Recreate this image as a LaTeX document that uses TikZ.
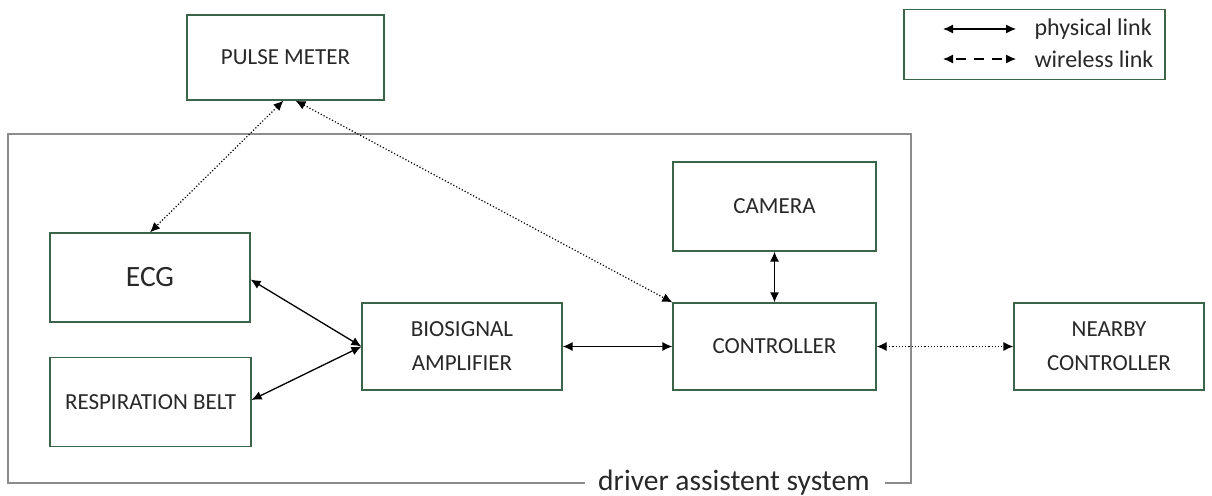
\documentclass[tikz,border=0pt]{standalone}
\usepackage{fontspec}
\setmainfont{Carlito}
\usetikzlibrary{arrows.meta}
\definecolor{boxgreen}{RGB}{60,100,72}
\definecolor{sysgrey}{RGB}{140,140,140}
\definecolor{txt}{RGB}{40,40,40}
\tikzset{
  blk/.style={draw=boxgreen, line width=1.2pt, fill=white, align=center, text=txt, font=\fontsize{23}{26}\selectfont, inner sep=0pt},
  phys/.style={line width=1.3pt, {Latex[length=10pt,width=9pt]}-{Latex[length=10pt,width=9pt]}},
  wire/.style={line width=1.2pt, dotted, {Latex[length=10pt,width=9pt]}-{Latex[length=10pt,width=9pt]}},
}
\begin{document}
\begin{tikzpicture}[x=1pt,y=-1pt]
\useasboundingbox (0,0) rectangle (1212,495);
% system boundary
\draw[sysgrey, line width=1.2pt] (585,483) -- (8,483) -- (8,134) -- (911,134) -- (911,483) -- (885,483);
\node[font=\fontsize{29.5}{32}\selectfont, text=txt, anchor=base] (sys) at (734,490) {driver assistent system};
% boxes
\node[blk, minimum width=197pt, minimum height=85pt] (pulse) at (285.5,57.5) {PULSE METER};
\node[blk, minimum width=203pt, minimum height=89pt] (cam) at (774.5,206.5) {CAMERA};
\node[blk, minimum width=200pt, minimum height=89pt, font=\fontsize{29.5}{32}\selectfont] (ecg) at (150,277.5) {ECG};
\node[blk, minimum width=201pt, minimum height=89pt] (resp) at (150.5,402) {RESPIRATION BELT};
\node[blk, minimum width=200pt, minimum height=87pt, font=\fontsize{23}{34}\selectfont] (bio) at (462,346.5) {BIOSIGNAL\\AMPLIFIER};
\node[blk, minimum width=203pt, minimum height=87pt] (ctrl) at (774.5,346.5) {CONTROLLER};
\node[blk, minimum width=190pt, minimum height=87pt, font=\fontsize{23}{34}\selectfont] (near) at (1109,346.5) {NEARBY\\CONTROLLER};
% legend
\node[draw=boxgreen, line width=1.2pt, minimum width=261pt, minimum height=70pt, inner sep=0pt] (leg) at (1034.5,44.5) {};
\coordinate (l1a) at (943,29);
\coordinate (l1b) at (1016,29);
\coordinate (l2a) at (943,59);
\coordinate (l2b) at (1016,59);
\draw[phys] (l1a) -- (l1b);
\draw[line width=1.3pt, dash pattern=on 10pt off 8pt, dash phase=-4pt, {Latex[length=10pt,width=9pt]}-{Latex[length=10pt,width=9pt]}] (l2a) -- (l2b);
\node[anchor=west, font=\fontsize{24}{26}\selectfont, text=txt] (lt1) at (1031,29) {physical link};
\node[anchor=west, font=\fontsize{24}{26}\selectfont, text=txt] (lt2) at (1031,59) {wireless link};
% connectors
\draw[wire] ([xshift=-2pt]pulse.south) -- (ecg.north);
\draw[wire] ([xshift=10pt]pulse.south) -- (ctrl.north west);
\draw[phys] ([yshift=-2pt]ecg.east) -- (bio.west);
\draw[phys] ([yshift=2pt]resp.east) -- (bio.west);
\draw[phys] (bio.east) -- (ctrl.west);
\draw[phys] (cam.south) -- (ctrl.north);
\draw[wire] (ctrl.east) -- (near.west);
\end{tikzpicture}
\end{document}
